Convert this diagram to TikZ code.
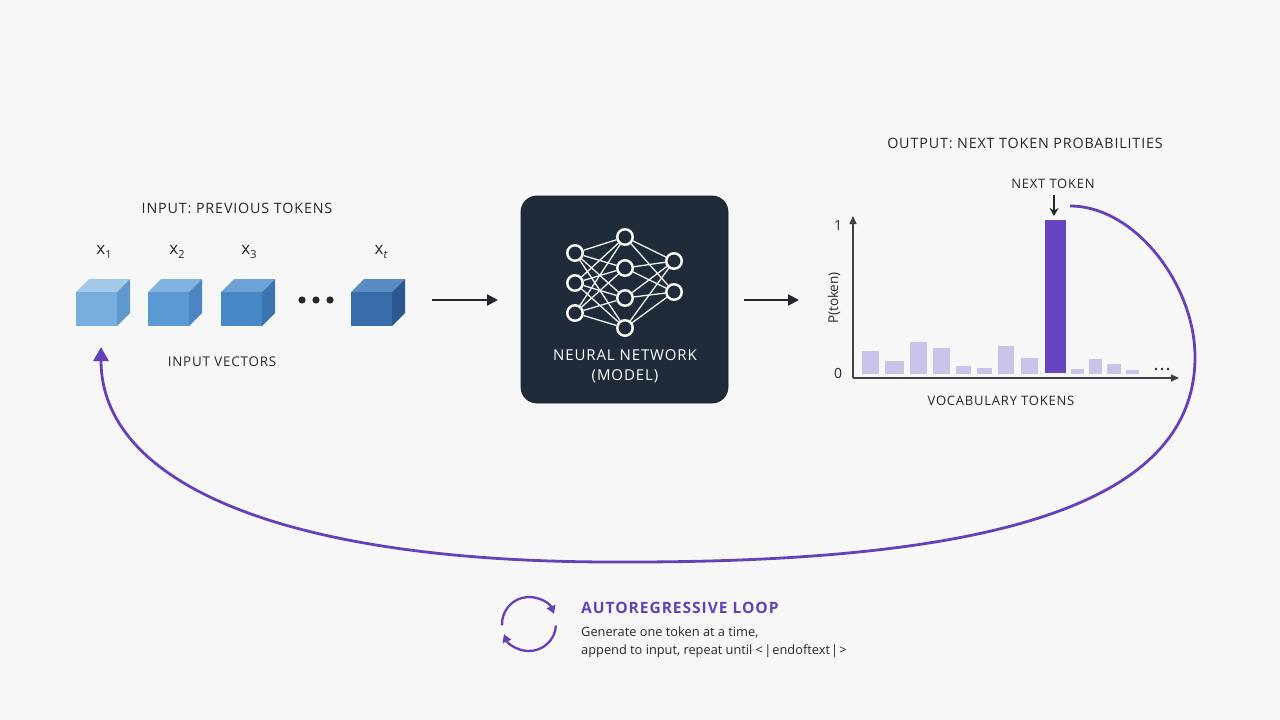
\documentclass[tikz,border=0pt]{standalone}
\usepackage{fontspec}
\setmainfont{Open Sans}
\newfontfamily\capsfont{Open Sans}[LetterSpace=6]
\usetikzlibrary{arrows.meta}
\definecolor{bg}{HTML}{F8F7F7}
\definecolor{ink}{HTML}{24282E}
\definecolor{loopc}{HTML}{6540BB}
\definecolor{lbar}{HTML}{CBC2E9}
\definecolor{bbar}{HTML}{6845C0}
\definecolor{nnfill}{HTML}{1F2B38}
\definecolor{axisc}{HTML}{3C4148}
\definecolor{caT}{HTML}{A4C8E8}\definecolor{caS}{HTML}{5E98CC}\definecolor{caF}{HTML}{78AEDB}
\definecolor{cbT}{HTML}{82B2E0}\definecolor{cbS}{HTML}{4A86C2}\definecolor{cbF}{HTML}{5A99D3}
\definecolor{ccT}{HTML}{6EA2D6}\definecolor{ccS}{HTML}{3A73B0}\definecolor{ccF}{HTML}{4787C8}
\definecolor{cdT}{HTML}{5A8BC2}\definecolor{cdS}{HTML}{2B5890}\definecolor{cdF}{HTML}{386CAB}
\tikzset{
  caplabel/.style={text=ink,font=\capsfont\fontsize{13}{15}\selectfont,inner sep=0pt},
  biglabel/.style={text=ink,font=\capsfont\fontsize{14.3}{17}\selectfont,inner sep=0pt},
  xlabel/.style={text=ink,font=\fontsize{17}{20}\selectfont,inner sep=0pt},
  flowarrow/.style={draw=ink,line width=2.3pt,-{Triangle[length=11pt,width=11pt]}},
  nnbox/.style={fill=nnfill,draw=nnfill!80!black,line width=0.8pt,rounded corners=16pt,minimum width=207pt,minimum height=207pt},
  neuron/.style={circle,draw=white,line width=2.4pt,fill=nnfill,minimum size=15.5pt,inner sep=0pt},
  wire/.style={draw=white!90!gray,line width=1.3pt},
  lightbar/.style={fill=lbar},
  axisline/.style={draw=axisc,line width=1.5pt,-{Triangle[length=8pt,width=7pt]}},
  loopline/.style={draw=loopc,line width=2.8pt},
  iconarc/.style={draw=loopc,line width=2.3pt,-{Triangle[length=8pt,width=9pt]}},
}
\newcommand{\mycube}[5]{%
  \fill[#3] (#1,#2) -- ++(13,-13) -- ++(41,0) -- ++(-13,13) -- cycle;
  \fill[#4] (#1+41,#2) -- ++(13,-13) -- ++(0,34) -- ++(-13,13) -- cycle;
  \fill[#5] (#1,#2) rectangle ++(41,34);
}
\begin{document}
\begin{tikzpicture}[x=1pt,y=-1pt]
\useasboundingbox (0,0) rectangle (1280,720);
\fill[bg] (0,0) rectangle (1280,720);

% ---------- input side ----------
\node[biglabel] (inlabel) at (237,208) {INPUT: PREVIOUS TOKENS};
\mycube{76}{292}{caT}{caS}{caF}
\mycube{148}{292}{cbT}{cbS}{cbF}
\mycube{221}{292}{ccT}{ccS}{ccF}
\mycube{351}{292}{cdT}{cdS}{cdF}
\node[xlabel] (x1) at (104,252) {x\raisebox{-4pt}{\fontsize{11}{11}\selectfont 1}};
\node[xlabel] (x2) at (177,252) {x\raisebox{-4pt}{\fontsize{11}{11}\selectfont 2}};
\node[xlabel] (x3) at (249,252) {x\raisebox{-4pt}{\fontsize{11}{11}\selectfont 3}};
\node[xlabel] (xt) at (381,252) {x\raisebox{-4pt}{\fontsize{11}{11}\selectfont\itshape t}};
\foreach \dx in {302,316,330} \fill[ink] (\dx,300) circle (3.6);
\node[caplabel,font=\capsfont\fontsize{13.4}{16}\selectfont] (invec) at (222,362) {INPUT VECTORS};

% ---------- arrows to / from model ----------
\coordinate (a1s) at (432,300);
\coordinate (a1e) at (498,300);
\draw[flowarrow] (a1s) -- (a1e);
\coordinate (a2s) at (744,300);
\coordinate (a2e) at (799,300);
\draw[flowarrow] (a2s) -- (a2e);

% ---------- neural network ----------
\node[nnbox] (nn) at (624.5,299.5) {};
\node[neuron] (l11) at (575,253) {};
\node[neuron] (l12) at (575,283) {};
\node[neuron] (l13) at (575,313) {};
\node[neuron] (l21) at (625,237) {};
\node[neuron] (l22) at (625,268) {};
\node[neuron] (l23) at (625,298) {};
\node[neuron] (l24) at (625,328) {};
\node[neuron] (l31) at (674,261) {};
\node[neuron] (l32) at (674,292) {};
\foreach \a in {l11,l12,l13} \foreach \b in {l21,l22,l23,l24} \draw[wire] (\a) -- (\b);
\foreach \a in {l21,l22,l23,l24} \foreach \b in {l31,l32} \draw[wire] (\a) -- (\b);
\node[text=white,font=\capsfont\fontsize{15}{18}\selectfont,inner sep=0pt] (nnt1) at (625,355) {NEURAL NETWORK};
\node[text=white,font=\capsfont\fontsize{15}{18}\selectfont,inner sep=0pt] (nnt2) at (625,376) {(MODEL)};

% ---------- output chart ----------
\node[biglabel] (outlabel) at (1025,143) {OUTPUT: NEXT TOKEN PROBABILITIES};
\node[caplabel] (nextlabel) at (1053,184) {NEXT TOKEN};
\coordinate (orig) at (853,378);
\coordinate (ytop) at (853,216);
\coordinate (xend) at (1179,378);
\draw[axisline] (orig) -- (ytop);
\draw[axisline] (orig) -- (xend);
\node[text=ink,font=\fontsize{14}{16}\selectfont,inner sep=0pt] (one) at (838,226) {1};
\node[text=ink,font=\fontsize{14}{16}\selectfont,inner sep=0pt] (zero) at (838,373) {0};
\node[text=ink,font=\fontsize{13.5}{15}\selectfont,inner sep=0pt,rotate=90] (ptok) at (834,298) {P(token)};
\fill[lightbar] (862,351) rectangle (879,373.5);
\fill[lightbar] (885,361) rectangle (904,373.5);
\fill[lightbar] (910,341.5) rectangle (927,373.5);
\fill[lightbar] (933,347.5) rectangle (949.5,373.5);
\fill[lightbar] (955.5,365.5) rectangle (971,373.5);
\fill[lightbar] (977,367.5) rectangle (992,373.5);
\fill[lightbar] (998,346) rectangle (1014,373.5);
\fill[lightbar] (1020.5,357.5) rectangle (1038,373.5);
\fill[lightbar] (1071,369) rectangle (1084,373.5);
\fill[lightbar] (1089,359) rectangle (1102,373.5);
\fill[lightbar] (1107,364) rectangle (1120.5,373.5);
\fill[lightbar] (1126,369.5) rectangle (1139,373.5);
\node[fill=bbar,inner sep=0pt,minimum width=21pt,minimum height=153pt,anchor=south west] (bigbar) at (1044.5,373.5) {};
\foreach \dx in {1156,1162,1168} \fill[ink] (\dx,369) circle (1.3);
\coordinate (nts) at (1054,195);
\coordinate (nte) at (1054,216);
\draw[draw=ink,line width=1.5pt,-{Stealth[length=8pt,width=9pt]}] (nts) -- (nte);
\node[caplabel] (voc) at (1001,401) {VOCABULARY TOKENS};

% ---------- autoregressive loop ----------
\coordinate (ls) at (1070,206);
\coordinate (lr) at (1195,357);
\coordinate (lb) at (620,562);
\coordinate (le) at (101,347);
\draw[loopline,-{Triangle[length=14pt,width=15pt]}] (ls) .. controls (1135,206) and (1195,285) .. (lr)
  .. controls (1195,502) and (1000,563) .. (lb)
  .. controls (280,563) and (101,482) .. (le);

% ---------- legend ----------
\coordinate (lc) at (529,624);
\draw[iconarc] ([shift={(-183:27)}]lc) arc[start angle=-183,end angle=-22,radius=27];
\draw[iconarc] ([shift={(3:27)}]lc) arc[start angle=3,end angle=158,radius=27];
\node[text=loopc,font=\capsfont\bfseries\fontsize{15.6}{18}\selectfont,inner sep=0pt,anchor=west] (ltitle) at (581,608) {AUTOREGRESSIVE LOOP};
\node[text=ink,font=\fontsize{12.8}{15}\selectfont,inner sep=0pt,anchor=west] (ld1) at (581,632) {Generate one token at a time,};
\node[text=ink,font=\fontsize{12.8}{15}\selectfont,inner sep=0pt,anchor=west] (ld2) at (581,651) {append to input, repeat until <\kern1.3pt|\kern1pt endoftext\kern1pt|\kern1.3pt>};
\end{tikzpicture}
\end{document}
